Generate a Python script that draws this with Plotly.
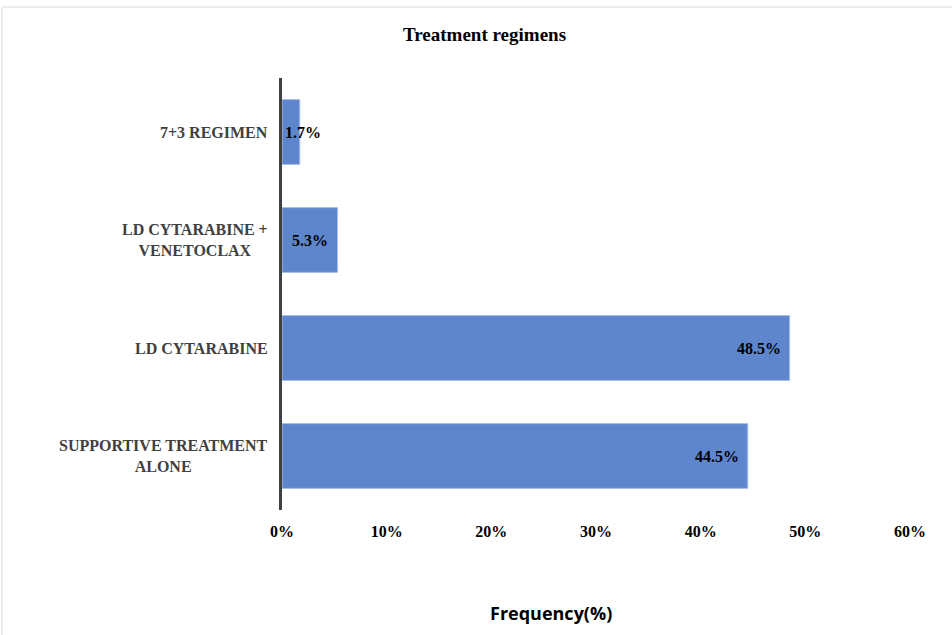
import plotly.graph_objects as go

categories = ["7+3 REGIMEN", "LD CYTARABINE +<br>VENETOCLAX", "LD CYTARABINE", "SUPPORTIVE TREATMENT<br>ALONE"]
values = [1.7, 5.3, 48.5, 44.5]
labels = ["1.7%", "5.3%", "48.5%", "44.5%"]
tick_vals = [0, 10, 20, 30, 40, 50, 60]
tick_text = ["0%", "10%", "20%", "30%", "40%", "50%", "60%"]

W, H = 952, 635
L, R, T, B = 282, 42, 78, 125
SERIF = "Liberation Serif, Times New Roman, serif"

fig = go.Figure(go.Bar(
    x=values, y=categories, orientation="h",
    marker=dict(color="#5E86CC", line=dict(color="#A9BFE6", width=1)),
    width=0.6, hoverinfo="skip",
))

ann = []
for c, v, t in zip(categories, values, labels):
    if v < 4:
        ann.append(dict(x=0, y=c, xref="x", yref="y", text=f"<b>{t}</b>", showarrow=False,
                        xanchor="left", xshift=1, font=dict(family=SERIF, size=16, color="black")))
    else:
        ann.append(dict(x=v, y=c, xref="x", yref="y", text=f"<b>{t}</b>", showarrow=False,
                        xanchor="right", xshift=-7, font=dict(family=SERIF, size=16, color="black")))
    ann.append(dict(x=0, y=c, xref="paper", yref="y", text=f"<b>{c}</b>", showarrow=False,
                    xanchor="right", align="center", xshift=-12,
                    font=dict(family=SERIF, size=16, color="#404040")))

pw, ph = W - L - R, H - T - B
ann.append(dict(x=(551 - L) / pw, y=(H - 613 - B) / ph, xref="paper", yref="paper",
                text="<b>Frequency(%)</b>", showarrow=False, xanchor="center", yanchor="middle",
                font=dict(family="Open Sans, Liberation Sans, sans-serif", size=18, color="black")))
ann.append(dict(x=(484 - L) / pw, y=(H - 34 - B) / ph, xref="paper", yref="paper",
                text="<b>Treatment regimens</b>", showarrow=False, xanchor="center", yanchor="middle",
                font=dict(family=SERIF, size=19, color="black")))

fig.update_layout(
    width=W, height=H,
    margin=dict(l=L, r=R, t=T, b=B),
    paper_bgcolor="white", plot_bgcolor="white",
    showlegend=False,
    annotations=ann,
    shapes=[dict(type="rect", xref="paper", yref="paper",
                 x0=(2 - L) / pw, x1=(W + 20 - L) / pw,
                 y0=(H - (H + 20) - B) / ph, y1=(H - 7 - B) / ph,
                 line=dict(color="#D9D9D9", width=1), fillcolor="rgba(0,0,0,0)", layer="below")],
    xaxis=dict(range=[0, 60], tickvals=tick_vals, ticktext=[f"<b>{t}</b>" for t in tick_text],
               showgrid=False, zeroline=False, showline=False, ticks="",
               tickfont=dict(family=SERIF, size=16, color="black"), ticklabelstandoff=10),
    yaxis=dict(autorange=False, range=[3.5, -0.5], showticklabels=False, ticks="",
               showgrid=False, zeroline=False, showline=True, linecolor="#404040", linewidth=3),
)

fig.write_html("out.html")
